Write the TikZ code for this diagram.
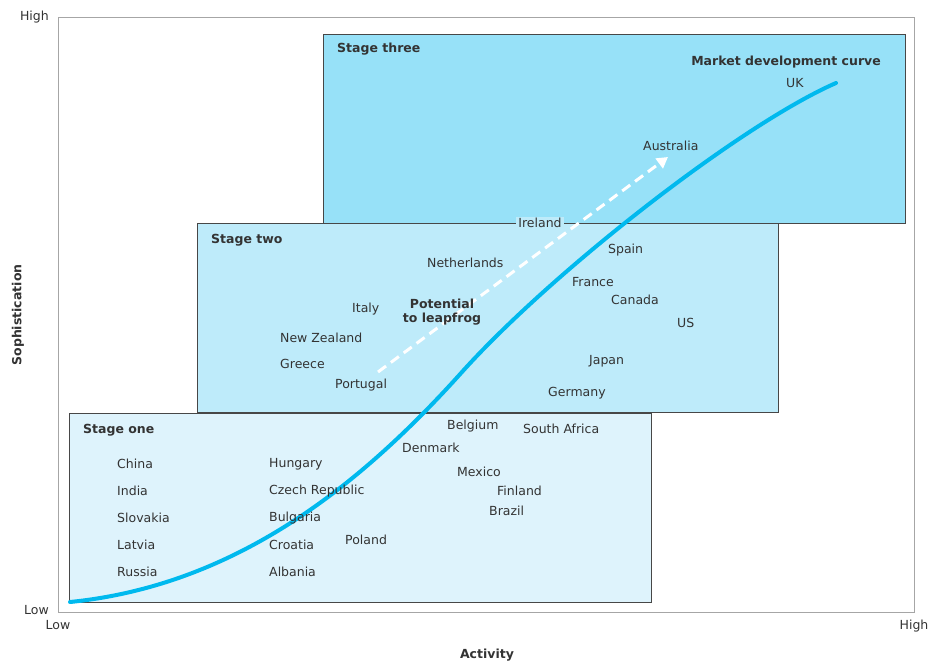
\documentclass[tikz,border=0pt]{standalone}
\usepackage{fontspec}
\setmainfont{DejaVu Sans}
\usepackage{tikz}
\usetikzlibrary{arrows.meta}
\definecolor{stagethree}{HTML}{97E1F8}
\definecolor{stagetwo}{HTML}{BEEBFA}
\definecolor{stageone}{HTML}{DEF3FC}
\definecolor{curveblue}{HTML}{00B9EE}
\definecolor{ink}{HTML}{333333}
\tikzset{
  stagebox/.style={draw=ink!90, line width=0.9pt},
  country/.style={anchor=west, inner sep=0pt, text=ink, font=\fontsize{12.5}{14}\selectfont},
  title/.style={anchor=west, inner sep=0pt, text=ink, font=\fontsize{12.5}{14}\selectfont\bfseries},
  axislabel/.style={inner sep=0pt, text=ink, font=\fontsize{12.5}{14}\selectfont},
}

\begin{document}
\begin{tikzpicture}[x=1pt, y=-1pt]
    \useasboundingbox (0,0) rectangle (930,664);
    % frame
    \draw [gray!70, line width=1pt] (58,17) rectangle (914,612);
    \node [axislabel, anchor=east] (yhigh) at (49,17) {High};
    \node [axislabel, anchor=east] (ylow) at (49,610) {Low};
    \node [axislabel, anchor=north] (xlow) at (58,620) {Low};
    \node [axislabel, anchor=north] (xhigh) at (914,620) {High};
    \node [axislabel, font=\fontsize{12.5}{14}\selectfont\bfseries, rotate=90] (ytitle) at (18,315) {Sophistication};
    \node [axislabel, font=\fontsize{12.5}{14}\selectfont\bfseries] (xtitle) at (487,655) {Activity};
    % stages
    \draw [stagebox, fill=stagethree] (323,34) rectangle (905,223);
    \draw [stagebox, fill=stagetwo] (197,223) rectangle (778,412);
    \draw [stagebox, fill=stageone] (69,413) rectangle (651,602);
    \node [country, fill=stagetwo, inner xsep=2pt, inner ysep=1pt, anchor=center] (ireland) at (540,223) {Ireland};
    % curve and leapfrog arrow
    \draw [curveblue, line width=4pt, line cap=round]
    (70,602) .. controls (240,585) and (365,480) .. (462,372)
    .. controls (552,272) and (740,125) .. (836,83);
    \coordinate (leapstart) at (378,372);
    \coordinate (leapend) at (668,157);
    \draw [white, line width=3pt, dash pattern=on 10pt off 6pt, -{Triangle[length=11pt, width=12pt]}] (leapstart) -- (leapend);
    % stage three
    \node [title] (three) at (337,49) {Stage three};
    \node [title, anchor=east] (curvename) at (881,62) {Market development curve};
    \node [country] (uk) at (786,83) {UK};
    \node [country] (australia) at (643,146) {Australia};
    % stage two
    \node [title] (two) at (211,240) {Stage two};
    \node [country] (netherlands) at (427,263) {Netherlands};
    \node [country] (spain) at (608,250) {Spain};
    \node [country] (france) at (572,282) {France};
    \node [country] (canada) at (611,300) {Canada};
    \node [country] (us) at (677,323) {US};
    \node [country] (italy) at (352,309) {Italy};
    \node [title, anchor=center, align=center] (leapfrog) at (442,312) {Potential\\to leapfrog};
    \node [country] (newzealand) at (280,338) {New Zealand};
    \node [country] (greece) at (280,364) {Greece};
    \node [country] (portugal) at (335,385) {Portugal};
    \node [country] (japan) at (589,361) {Japan};
    \node [country] (germany) at (548,393) {Germany};
    % stage one
    \node [title] (one) at (83,430) {Stage one};
    \node [country] (belgium) at (447,426) {Belgium};
    \node [country] (southafrica) at (523,429) {South Africa};
    \node [country] (denmark) at (402,448) {Denmark};
    \node [country] (mexico) at (457,472) {Mexico};
    \node [country] (finland) at (497,491) {Finland};
    \node [country] (brazil) at (489,511) {Brazil};
    \node [country] (poland) at (345,540) {Poland};
    \foreach \name [count=\i] in {China,India,Slovakia,Latvia,Russia}
      \node [country] (\name) at (117,437+27*\i) {\name};
    \foreach \name/\label [count=\i] in {hungary/Hungary,czech/Czech Republic,bulgaria/Bulgaria,croatia/Croatia,albania/Albania}
      \node [country] (\name) at (269,437+27*\i) {\label};
  \end{tikzpicture}
\end{document}
